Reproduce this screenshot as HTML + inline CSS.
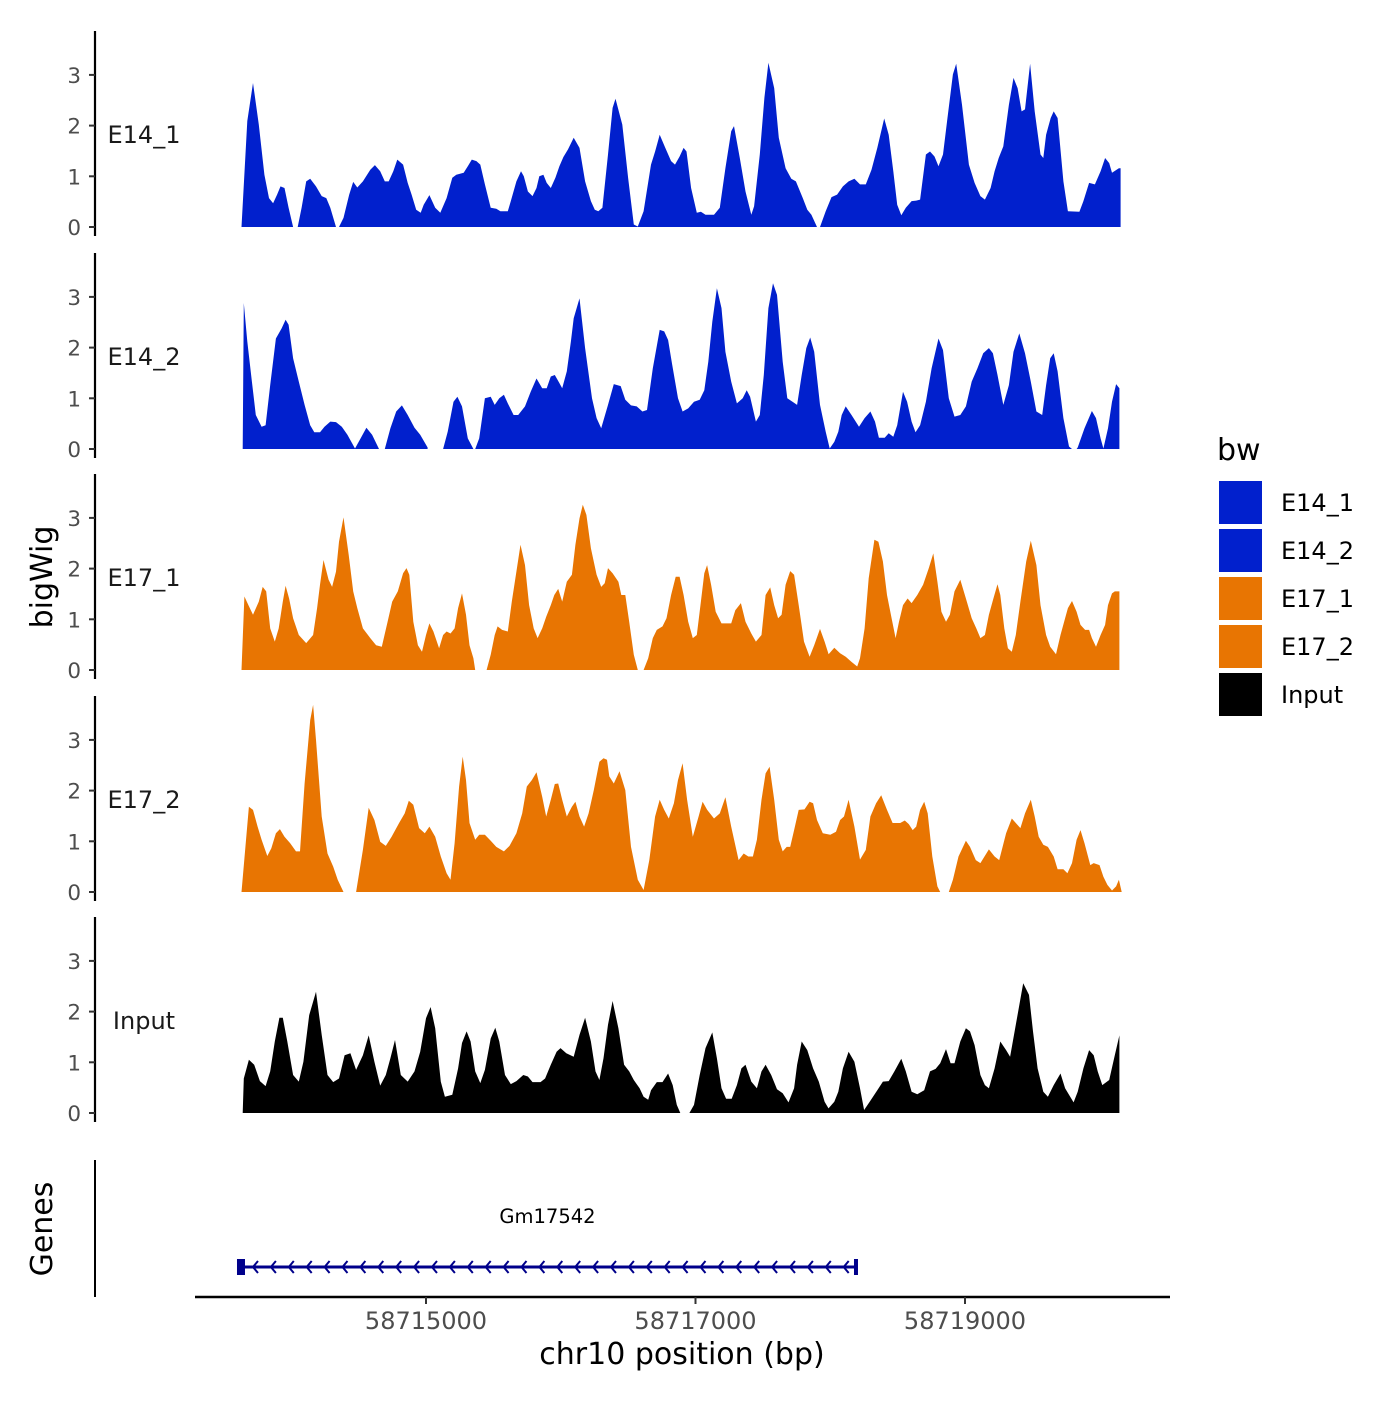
<!DOCTYPE html>
<html><head><meta charset="utf-8"><style>
html,body{margin:0;padding:0;background:#fff}
svg text{font-family:"DejaVu Sans","Liberation Sans",sans-serif}
</style></head><body>
<svg id="chart" width="1400" height="1400" xmlns="http://www.w3.org/2000/svg">
<g id="tracks"></g>
<g id="axes"></g>
<text x="52" y="577" transform="rotate(-90 52 577)" text-anchor="middle" font-size="30" fill="#000">bigWig</text>
<text x="52" y="1229" transform="rotate(-90 52 1229)" text-anchor="middle" font-size="30" fill="#000">Genes</text>
<line x1="95" y1="1160" x2="95" y2="1297" stroke="#000" stroke-width="2"/>
<g id="genes"></g>
<line x1="195" y1="1297" x2="1170" y2="1297" stroke="#000" stroke-width="2.5"/>
<g id="xticks"></g>
<text x="682" y="1364" text-anchor="middle" font-size="30" fill="#000">chr10 position (bp)</text>
<g>
<text x="1217" y="460" font-size="30" fill="#000">bw</text>
<g id="legend"></g>
</g>
</svg>
<script>
const regionStart = 58713546;
const xTicks = [58715000, 58717000, 58719000];
const trackNames = ["E14_1","E14_2","E17_1","E17_2","Input"];
const trackColors = ["#0120cd","#0120cd","#e87502","#e87502","#000000"];
const yTicks = [0,1,2,3];
const geneName = "Gm17542";
const geneStart = 58713627;
const geneEnd = 58718191;

const pos1 = [85,128,170,213,255,289,319,349,374,404,434,468,null,502,531,565,595,638,680,714,744,786,null,808,842,884,914,944,986,1041,1075,1114,1148,1177,1211,1241,1284,1318,1347,1381,1415,1437,1479,1522,1560,1607,1649,1679,1734,1764,1794,1828,1857,1891,1934,1976,2006,2061,2083,2125,2159,2180,2210,2244,2274,2295,2325,2350,2380,2414,2444,2474,2508,2550,2593,2635,2678,2707,2733,2763,2805,2839,2860,2911,2954,2996,3026,3069,3124,3154,3188,3230,3273,3302,3336,3366,3387,3421,3464,3494,3528,3591,3634,3676,3719,3740,3783,3825,3868,3889,3931,3965,3995,4038,4072,4123,4165,4199,4250,4284,4314,4356,null,4378,4420,4463,4505,4548,4590,4633,4675,4718,4760,4803,4854,4888,4922,4951,4981,5015,5058,5092,5121,5164,5194,5228,5257,5291,5321,5364,5389,5432,5483,5525,5568,5602,5644,5674,5704,5738,5780,5814,5844,5874,5899,5937,5971,6014,6035,6056,6090,6112,6141,6184,6218,6303,6333,6375,6418,6460,6494,6524,6545,6596,6609];
const val1 = [0,2.09,2.84,2.02,1.03,0.57,0.47,0.64,0.80,0.77,0.38,0,null,0,0.38,0.90,0.95,0.80,0.61,0.57,0.38,0,null,0,0.18,0.64,0.89,0.78,0.90,1.13,1.22,1.10,0.90,0.90,1.10,1.33,1.23,0.87,0.64,0.34,0.28,0.44,0.63,0.38,0.28,0.57,0.97,1.03,1.07,1.20,1.33,1.30,1.23,0.84,0.38,0.36,0.31,0.31,0.51,0.90,1.10,1.00,0.70,0.61,0.77,1.00,1.03,0.87,0.77,0.97,1.20,1.38,1.53,1.76,1.56,0.90,0.51,0.34,0.31,0.38,1.43,2.35,2.53,2.02,0.97,0.05,0.01,0.31,1.23,1.49,1.82,1.56,1.30,1.23,1.39,1.56,1.49,0.77,0.28,0.30,0.24,0.24,0.38,1.16,1.89,1.99,1.36,0.70,0.24,0.41,1.43,2.55,3.24,2.74,1.76,1.16,0.95,0.90,0.57,0.34,0.24,0,null,0,0.31,0.59,0.64,0.80,0.90,0.95,0.84,0.84,1.13,1.56,2.14,1.82,1.10,0.44,0.23,0.38,0.51,0.52,0.54,1.43,1.49,1.39,1.20,1.43,2.09,3.01,3.22,2.41,1.23,0.87,0.61,0.54,0.77,1.10,1.36,1.59,2.41,2.94,2.74,2.28,2.32,3.22,2.28,1.43,1.36,1.82,2.15,2.28,2.15,0.90,0.31,0.30,0.51,0.87,0.84,1.10,1.36,1.26,1.07,1.16,1.16];

const pos2 = [94,102,128,162,191,234,264,298,340,383,412,434,468,510,553,595,625,667,701,744,786,829,871,927,969,1012,1054,1105,null,1148,1190,1233,1275,1318,1369,1411,1466,null,1581,1615,1658,1687,1721,1764,1806,null,1819,1849,1891,1934,1964,1998,2032,2061,2104,2138,2189,2231,2274,2316,2350,2380,2410,2444,2465,2499,2529,2550,2593,2635,2686,2720,2754,2805,2848,2899,2933,2975,3018,3060,3094,3137,3188,3222,3251,3281,3324,3358,3400,3443,3485,3519,3549,3579,3613,3647,3676,3719,3761,3804,3834,3859,3902,3931,3961,3995,4029,4059,4101,4135,4174,4208,4242,4276,4305,4335,4378,4420,4450,4484,4514,4539,4569,4612,4667,4709,4752,4786,4815,4858,4888,4922,4951,4994,5024,5058,5087,5121,5164,5206,5257,5291,5334,5376,5419,5461,5504,5546,5589,5631,5661,5695,5738,5780,5814,5857,5899,5942,5984,6027,6056,6086,6112,6141,6184,6226,6248,null,6282,6290,6341,6396,6426,6460,6481,6515,6545,6575,6600];
const val2 = [0,2.88,2.12,1.33,0.67,0.44,0.47,1.26,2.18,2.38,2.55,2.45,1.79,1.33,0.87,0.47,0.33,0.33,0.44,0.54,0.53,0.44,0.28,0.01,0.21,0.42,0.28,0,null,0,0.41,0.74,0.86,0.67,0.42,0.28,0.03,null,0,0.34,0.93,1.03,0.84,0.21,0,null,0,0.21,1.00,1.03,0.87,1.00,1.07,0.90,0.67,0.67,0.84,1.13,1.39,1.20,1.20,1.43,1.46,1.30,1.20,1.53,2.12,2.58,2.97,1.99,1.00,0.61,0.41,0.87,1.28,1.24,0.97,0.86,0.84,0.74,0.77,1.59,2.35,2.32,2.15,1.66,1.00,0.74,0.80,0.93,0.97,1.16,1.72,2.51,3.17,2.78,1.92,1.33,0.90,1.00,1.16,1.03,0.54,0.67,1.46,2.78,3.27,3.04,1.72,1.00,0.93,0.87,1.46,1.99,2.20,1.92,0.87,0.34,0.01,0.14,0.34,0.67,0.84,0.67,0.44,0.61,0.74,0.54,0.22,0.22,0.31,0.24,0.47,1.13,0.93,0.54,0.33,0.47,0.93,1.59,2.18,1.95,1.00,0.64,0.67,0.84,1.33,1.59,1.89,1.99,1.89,1.46,0.87,1.26,1.92,2.28,1.89,1.33,0.74,0.67,1.26,1.79,1.89,1.53,0.61,0.05,0,null,0,0.03,0.41,0.75,0.61,0.21,0.01,0.41,0.93,1.28,1.20];

const pos3 = [85,106,136,170,213,242,268,298,332,361,391,412,438,468,510,565,616,646,667,693,731,757,786,808,842,880,914,944,986,1041,1084,1126,1169,1203,1245,1284,1309,1330,1360,1394,1424,1454,1479,1509,1551,1581,1607,1636,1666,1692,1721,1751,1777,1806,1819,null,1904,1934,1964,1985,2019,2061,2091,2125,2155,2189,2219,2253,2282,2316,2346,2380,2406,2435,2465,2499,2537,2563,2593,2618,2644,2678,2720,2754,2780,2805,2839,2882,2903,2933,2962,2996,3026,null,3069,3103,3137,3167,3209,3239,3273,3307,3336,3366,3400,3434,3464,3494,3519,3540,3570,3604,3647,3719,3749,3791,3825,3868,3902,3944,3974,4008,4038,4067,4093,4123,4157,4186,4220,4259,4301,4335,4378,4412,4442,4484,4527,4569,4612,4654,4675,4709,4739,4782,4811,4845,4875,4909,4939,4964,4994,5028,5058,5100,5143,5185,5219,5249,5279,5313,5342,5376,5419,5461,5504,5538,5568,5602,5631,5665,5695,5716,5746,5772,5801,5831,5865,5908,5942,5984,6014,6056,6086,6129,6163,6197,6218,6248,6282,6311,6345,6375,6396,6426,6460,6494,6515,6545,6566,6600];
const val3 = [0,1.45,1.28,1.09,1.35,1.64,1.55,0.82,0.56,0.82,1.35,1.66,1.41,1.02,0.69,0.53,0.69,1.22,1.68,2.17,1.78,1.64,1.94,2.53,3.01,2.27,1.55,1.22,0.82,0.63,0.49,0.46,0.95,1.35,1.55,1.91,2.01,1.88,0.95,0.49,0.36,0.69,0.92,0.76,0.43,0.69,0.76,0.72,0.82,1.22,1.51,1.09,0.49,0.23,0,null,0,0.30,0.69,0.86,0.79,0.76,1.35,1.94,2.47,2.07,1.28,0.82,0.63,0.82,1.05,1.28,1.48,1.60,1.35,1.74,1.88,2.47,2.99,3.26,3.06,2.40,1.88,1.64,1.71,2.01,1.91,1.74,1.48,1.48,0.95,0.30,0,null,0,0.23,0.63,0.79,0.86,1.02,1.48,1.84,1.84,1.48,0.95,0.63,0.69,1.35,1.91,2.07,1.68,1.15,0.92,0.92,1.18,1.32,0.95,0.72,0.56,0.69,1.48,1.63,1.28,1.02,1.09,1.68,1.95,1.88,1.28,0.56,0.26,0.49,0.81,0.56,0.31,0.44,0.33,0.26,0.16,0.07,0.23,0.82,1.81,2.57,2.53,2.14,1.48,1.02,0.63,0.95,1.28,1.41,1.32,1.48,1.68,2.01,2.30,1.74,1.15,0.95,1.09,1.55,1.78,1.41,1.02,0.82,0.63,0.69,1.09,1.41,1.69,1.48,0.82,0.43,0.36,0.69,1.35,2.14,2.55,2.07,1.28,0.69,0.46,0.31,0.69,1.02,1.22,1.36,1.15,0.89,0.79,0.79,0.63,0.46,0.69,0.89,1.28,1.51,1.55,1.55];

const pos4 = [85,140,170,204,234,276,306,340,370,404,446,489,519,553,595,616,638,680,723,765,799,842,null,935,986,1029,1071,1114,1156,1199,1254,1296,1326,1360,1403,1445,1479,1522,1564,1607,1636,1666,1700,1726,1751,1777,1819,1849,1891,1934,1976,2032,2074,2125,2168,2202,2240,2274,2316,2346,2380,2410,2435,2465,2499,2537,2563,2593,2627,2661,2699,2741,2771,2797,2814,2848,2890,2933,2975,3026,3069,3111,3154,3188,3222,3256,3294,3324,3358,3392,3434,3477,3507,3541,3591,3634,3676,3719,3774,3812,3846,3880,3910,3944,3974,4004,4038,4072,4101,4131,4157,4186,4220,4263,4301,4327,4356,4399,4454,4497,4527,4556,4590,4633,4675,4718,4752,4794,4832,4875,4917,4973,5007,5037,5066,5092,5121,5151,5177,5211,5249,5270,null,5334,5364,5406,5461,5491,5534,5568,5631,5674,5708,5759,5801,5831,5865,5899,5942,5971,6001,6035,6069,6112,6141,6184,6214,6248,6282,6311,6341,6384,6409,6452,6481,6511,6545,6575,6596,6617];
const val4 = [0,1.68,1.62,1.29,1.03,0.71,0.86,1.16,1.24,1.09,0.96,0.80,0.80,2.14,3.39,3.69,3.00,1.49,0.76,0.50,0.24,0,null,0,0.83,1.66,1.42,0.99,0.91,1.09,1.36,1.55,1.80,1.72,1.26,1.16,1.29,1.09,0.70,0.37,0.24,0.96,2.08,2.67,2.21,1.36,1.03,1.13,1.13,1.01,0.89,0.80,0.91,1.16,1.55,2.08,2.21,2.36,1.88,1.49,1.82,2.13,2.14,1.82,1.49,1.68,1.78,1.49,1.29,1.55,2.01,2.57,2.64,2.61,2.28,2.14,2.38,2.01,0.89,0.24,0.04,0.63,1.49,1.82,1.62,1.45,1.75,2.21,2.54,1.82,1.09,1.49,1.78,1.62,1.45,1.55,1.87,1.29,0.63,0.76,0.70,0.70,1.03,1.82,2.34,2.47,1.82,1.03,0.80,0.89,0.89,1.22,1.62,1.63,1.78,1.75,1.42,1.16,1.13,1.19,1.42,1.49,1.82,1.29,0.64,0.83,1.49,1.75,1.91,1.62,1.36,1.36,1.41,1.34,1.22,1.29,1.62,1.78,1.55,0.70,0.11,0,null,0,0.24,0.70,1.01,0.89,0.63,0.57,0.84,0.70,0.63,1.16,1.45,1.36,1.26,1.55,1.82,1.49,1.09,0.93,0.89,0.70,0.45,0.45,0.37,0.57,1.03,1.22,0.96,0.53,0.57,0.53,0.30,0.14,0.03,0.11,0.24,0];

const pos5 = [94,102,140,179,221,264,298,332,366,391,425,468,510,544,587,638,680,723,765,808,850,893,935,986,1029,1071,1114,1156,1190,1224,1267,1318,1369,1411,1454,1488,1522,1564,1594,1649,1692,1721,1755,1785,1819,1857,1891,1934,1968,1998,2040,2083,2125,2176,2210,2244,2304,2338,2380,2423,2452,2495,2550,2593,2635,2678,2712,2741,2771,2805,2839,2882,2924,2962,2996,3039,3069,3103,3124,3167,3209,3251,3285,3315,3341,null,3409,3443,3485,3528,3579,3613,3647,3681,3723,3761,3795,3825,3868,3910,3944,3974,4016,4059,4101,4144,4186,4208,4242,4284,4327,4369,4412,4441,4484,4514,4548,4590,4633,4675,4705,4747,4803,4845,4888,4930,4981,5015,5058,5100,5151,5194,5236,5270,5313,5347,5376,5419,5461,5491,5525,5568,5602,5631,5674,5716,5759,5789,5831,5886,5929,5959,5993,6035,6069,6112,6163,6197,6226,6260,6290,6333,6375,6409,6439,6473,6524,6566,6600];
const val5 = [0,0.68,1.05,0.95,0.63,0.53,0.82,1.41,1.88,1.88,1.41,0.75,0.62,1.01,1.93,2.39,1.54,0.75,0.61,0.68,1.14,1.18,0.85,1.14,1.53,1.01,0.54,0.75,1.08,1.44,0.75,0.62,0.82,1.21,1.87,2.09,1.67,0.62,0.32,0.36,0.88,1.38,1.61,1.41,0.82,0.59,0.85,1.47,1.68,1.41,0.75,0.57,0.63,0.75,0.72,0.61,0.61,0.68,0.95,1.21,1.28,1.18,1.11,1.54,1.88,1.41,0.82,0.65,1.08,1.74,2.21,1.67,0.95,0.82,0.65,0.49,0.32,0.26,0.45,0.61,0.61,0.78,0.55,0.16,0,null,0,0.16,0.75,1.28,1.59,1.08,0.49,0.28,0.28,0.55,0.88,0.95,0.62,0.49,0.82,0.95,0.75,0.47,0.39,0.21,0.49,0.95,1.41,1.24,0.88,0.62,0.22,0.09,0.22,0.42,0.88,1.21,1.01,0.49,0.06,0.22,0.45,0.62,0.63,0.82,1.07,0.82,0.42,0.37,0.45,0.82,0.87,0.98,1.26,0.98,0.98,1.41,1.67,1.61,1.34,0.75,0.55,0.49,0.88,1.41,1.24,1.11,1.74,2.56,2.33,1.61,0.88,0.42,0.32,0.55,0.78,0.49,0.36,0.21,0.42,0.88,1.24,1.14,0.82,0.55,0.65,1.14,1.53];

const allPos = [pos1,pos2,pos3,pos4,pos5];
const allVal = [val1,val2,val3,val4,val5];

const NS = "http://www.w3.org/2000/svg";
const zeroY = [227,449,670,892,1113];
const unitPx = 50.7;
function xScale(bp){ return 426 + (bp - 58715000) * 0.134750; }
function yScale(i, v){ return zeroY[i] - v * unitPx; }
function mk(tag, attrs, parent){ const e=document.createElementNS(NS,tag); for(const k in attrs) e.setAttribute(k,attrs[k]); parent.appendChild(e); return e; }

const tracksG = document.getElementById('tracks');
const axesG = document.getElementById('axes');
for (let t=0;t<5;t++){
  const g = mk('g',{},tracksG);
  
  
  const P = allPos[t], V = allVal[t];
  let seg = [];
  const flush = () => {
    if (seg.length<2){ seg=[]; return; }
    let d = 'M'+xScale(regionStart+seg[0][0]).toFixed(1)+','+zeroY[t];
    for (const [p,v] of seg) d += 'L'+xScale(regionStart+p).toFixed(1)+','+yScale(t,v).toFixed(1);
    d += 'L'+xScale(regionStart+seg[seg.length-1][0]).toFixed(1)+','+zeroY[t]+'Z';
    const path = mk('path',{d:d, fill:trackColors[t]},g);
    
    
    seg=[];
  };
  for (let i=0;i<P.length;i++){ if (P[i]===null){ flush(); } else seg.push([P[i],V[i]]); }
  flush();
  const ax = mk('line',{x1:95,y1:zeroY[t]-196,x2:95,y2:zeroY[t]+9,stroke:'#000','stroke-width':2.2},axesG);
  
  
  for (const v of yTicks){
    const y = yScale(t,v);
    const tk = mk('line',{x1:89,y1:y,x2:95,y2:y,stroke:'#333','stroke-width':2},axesG);
    
    
    const tl = mk('text',{x:81,y:y+8,'text-anchor':'end','font-size':21.5,fill:'#4d4d4d'},axesG);
    tl.textContent = v;
    
    
  }
  const lab = mk('text',{x:144,y:zeroY[t]-84,'text-anchor':'middle','font-size':24,fill:'#1a1a1a'},axesG);
  lab.textContent = trackNames[t];
  
  
}

const genesG = document.getElementById('genes');
const gx1 = xScale(geneStart), gx2 = xScale(geneEnd), gy = 1267;
const gl = mk('line',{x1:gx1,y1:gy,x2:gx2,y2:gy,stroke:'#00008b','stroke-width':3},genesG);


const e1 = mk('rect',{x:gx1-4,y:gy-8,width:8,height:16,fill:'#00008b'},genesG);


const e2 = mk('rect',{x:gx2-2,y:gy-8,width:4,height:16,fill:'#00008b'},genesG);


for (let x = gx1+13; x < gx2-4; x += 17.9){
  const a = mk('path',{d:`M${x+4},${gy-6}L${x-1},${gy}L${x+4},${gy+6}`,fill:'none',stroke:'#00008b','stroke-width':2},genesG);
  
  
}
const gt = mk('text',{x:(gx1+gx2)/2 - 1,y:1223,'text-anchor':'middle','font-size':19.5,fill:'#000'},genesG);
gt.textContent = geneName;



const xt = document.getElementById('xticks');
for (const b of xTicks){
  const x = xScale(b);
  const l = mk('line',{x1:x,y1:1297,x2:x,y2:1304,stroke:'#333','stroke-width':2},xt);
  
  
  const tx = mk('text',{x:x,y:1329,'text-anchor':'middle','font-size':24,fill:'#4d4d4d'},xt);
  tx.textContent = b;
  
  
}

const lg = document.getElementById('legend');
for (let i=0;i<5;i++){
  const r = mk('rect',{x:1219,y:481+i*48,width:43,height:43,fill:trackColors[i]},lg);
  
  
  const t = mk('text',{x:1281,y:511+i*48,'font-size':24,fill:'#000'},lg);
  t.textContent = trackNames[i];
  
  
}
</script>
</body></html>
